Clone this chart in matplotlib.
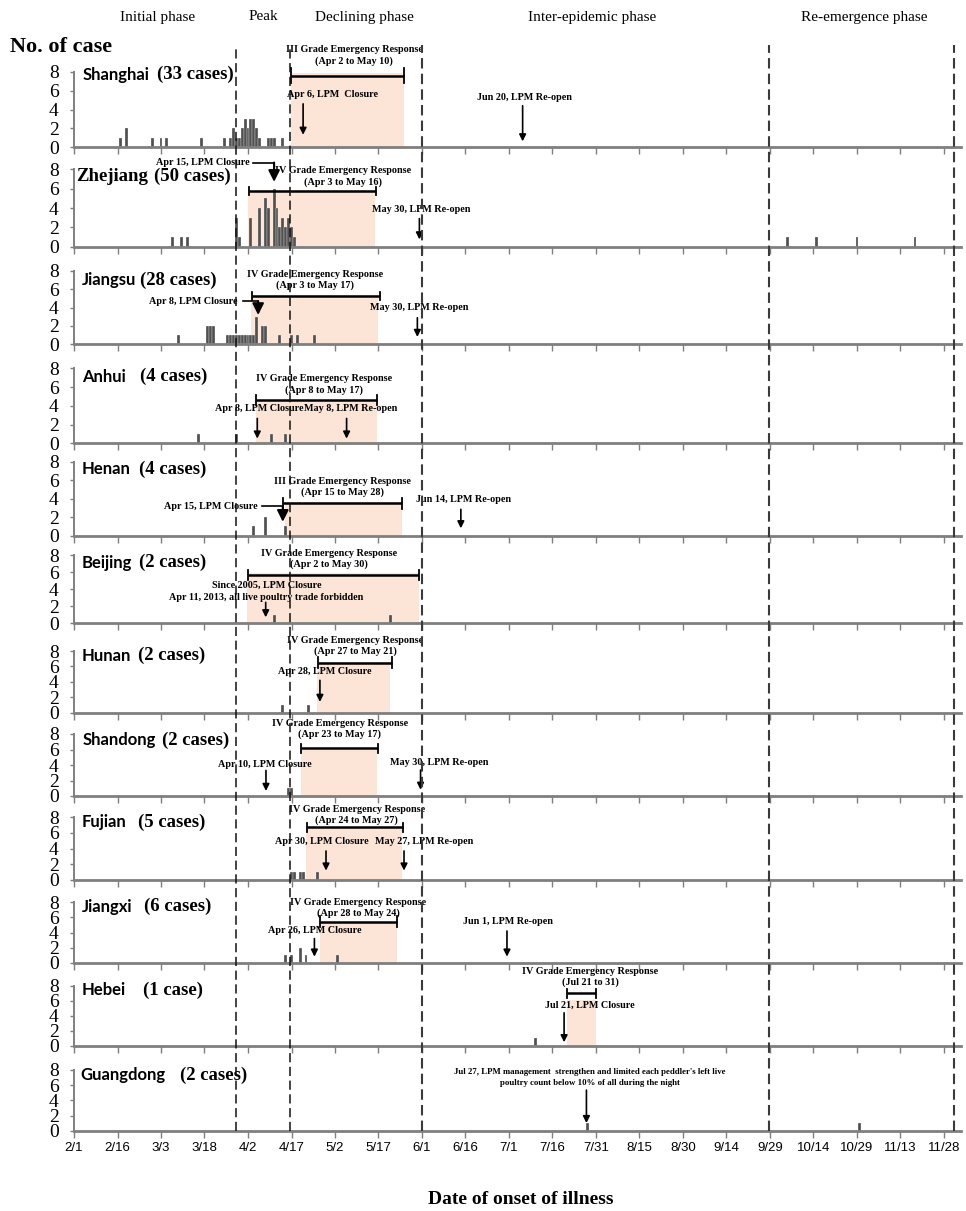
import matplotlib
matplotlib.use('Agg')
import matplotlib.pyplot as plt
import pandas as pd

W, H = 966, 1211
YEAR_START = pd.Timestamp('2013-02-01')

def to_day(s):
    m, d = s.split('/')
    return (pd.Timestamp(2013, int(m), int(d)) - YEAR_START).days

# ---------------- data ----------------
provinces = ['Shanghai', 'Zhejiang', 'Jiangsu', 'Anhui', 'Henan', 'Beijing',
             'Hunan', 'Shandong', 'Fujian', 'Jiangxi', 'Hebei', 'Guangdong']
case_labels = ['(33 cases)', '(50 cases)', '(28 cases)', '(4 cases)', '(4 cases)',
               '(2 cases)', '(2 cases)', '(2 cases)', '(5 cases)', '(6 cases)',
               '(1 case)', '(2 cases)']

shanghai_dates = ['2/17', '2/19', '2/28', '3/3', '3/5', '3/17', '3/25', '3/27', '3/28', '3/29',
                  '3/30', '3/31', '4/1', '4/2', '4/3', '4/4', '4/5', '4/6', '4/9', '4/10',
                  '4/11', '4/14']
shanghai_counts = [1, 2, 1, 1, 1, 1, 1, 1, 2, 1, 1, 2, 3, 2, 3, 3, 2, 1, 1, 1, 1, 1]

zhejiang_dates = ['3/7', '3/10', '3/12', '3/29', '3/30', '4/3', '4/6', '4/8', '4/9', '4/11',
                  '4/12', '4/13', '4/14', '4/15', '4/16', '4/17', '4/18',
                  '10/5', '10/15', '10/29', '11/18']
zhejiang_counts = [1, 1, 1, 3, 1, 3, 4, 5, 4, 6, 4, 2, 3, 2, 3, 2, 1, 1, 1, 1, 1]

jiangsu_dates = ['3/9', '3/19', '3/20', '3/21', '3/26', '3/27', '3/28', '3/29', '3/30', '3/31',
                 '4/1', '4/2', '4/3', '4/4', '4/5', '4/7', '4/8', '4/13', '4/17', '4/19', '4/25']
jiangsu_counts = [1, 2, 2, 2, 1, 1, 1, 1, 1, 1, 1, 1, 1, 1, 3, 2, 2, 1, 1, 1, 1]

anhui_dates = ['3/16', '3/29', '4/10', '4/15']
anhui_counts = [1, 1, 1, 1]
henan_dates = ['4/4', '4/8', '4/15']
henan_counts = [1, 2, 1]
beijing_dates = ['4/11', '5/21']
beijing_counts = [1, 1]
hunan_dates = ['4/14', '4/23']
hunan_counts = [1, 1]
shandong_dates = ['4/16', '4/17']
shandong_counts = [1, 1]
fujian_dates = ['4/17', '4/18', '4/20', '4/21', '4/26']
fujian_counts = [1, 1, 1, 1, 1]
jiangxi_dates = ['4/15', '4/17', '4/20', '4/22', '5/3']
jiangxi_counts = [1, 1, 2, 1, 1]
hebei_dates = ['7/10']
hebei_counts = [1]
guangdong_dates = ['7/28', '10/30']
guangdong_counts = [1, 1]

series = [(shanghai_dates, shanghai_counts), (zhejiang_dates, zhejiang_counts),
          (jiangsu_dates, jiangsu_counts), (anhui_dates, anhui_counts),
          (henan_dates, henan_counts), (beijing_dates, beijing_counts),
          (hunan_dates, hunan_counts), (shandong_dates, shandong_counts),
          (fujian_dates, fujian_counts), (jiangxi_dates, jiangxi_counts),
          (hebei_dates, hebei_counts), (guangdong_dates, guangdong_counts)]

phase_labels = ['Initial phase', 'Peak', 'Declining phase', 'Inter-epidemic phase', 'Re-emergence phase']
phase_bounds = [56, 74.5, 120, 239.7, 303.5]   # days since Feb 1 (dashed lines)

# ---------------- layout ----------------
X0_PX, PX_PER_DAY, XMAX = 74, 2.9, 306
rows = [(147, 72), (246.7, 169.3), (344.3, 271), (443.3, 368.3), (535.7, 461.7),
        (623.3, 555), (712.7, 651), (796, 734), (880, 817.3), (962.7, 902.3),
        (1046, 985.7), (1130.7, 1070)]
prov_x = [2.8, 0.7, 2.8, 2.8, 2.8, 2.8, 2.8, 2.8, 2.8, 2.8, 2.8, 2.1]
case_x = [28.6, 27.6, 22.8, 22.8, 22.4, 22.4, 22.1, 30.3, 22.1, 24.1, 23.8, 36.6]
label_y = [7.7, 7.3, 7.0, 7.1, 7.2, 7.1, 7.4, 7.2, 7.4, 7.4, 7.4, 7.3]

notes = [
    dict(span=(74.8, 113.8), shade_top=7.9, line_y=7.6, cap=0.8,
         title=('III Grade Emergency Response', '(Apr 2 to May 10)'), title_x=96.6, title_y=(10.45, 9.2),
         arrows=[('Apr 6, LPM  Closure', 89.3, 5.65, 79.0, 4.6, 1.3),
                 ('Jun 20, LPM Re-open', 155.3, 5.3, 154.7, 4.4, 0.6)]),
    dict(span=(60.1, 103.8), shade_top=5.9, line_y=5.75, cap=0.45, line_span=(60.5, 104.1),
         title=('IV Grade Emergency Response', '(Apr 3 to May 16)'), title_x=92.7, title_y=(7.9, 6.7),
         arrows=[('May 30, LPM Re-open', 119.9, 3.8, 119.1, 2.9, 0.75)],
         larrow=('Apr 15, LPM Closure', 60.7, 8.7, 61.7, 69.0, 6.7)),
    dict(span=(60.9, 104.7), shade_top=5.4, line_y=5.27, cap=0.45, line_span=(61.3, 105.5),
         title=('IV Grade Emergency Response', '(Apr 3 to May 17)'), title_x=83.1, title_y=(7.6, 6.5),
         arrows=[('May 30, LPM Re-open', 119.1, 4.0, 118.4, 2.9, 0.8)],
         larrow=('Apr 8, LPM Closure', 56.4, 4.7, 58.2, 63.5, 3.2)),
    dict(span=(62.8, 104.4), shade_top=4.6, line_y=4.6, cap=0.5, line_span=(62.8, 104.6),
         title=('IV Grade Emergency Response', '(Apr 8 to May 17)'), title_x=86.3, title_y=(6.9, 5.7),
         arrows=[('Apr 8, LPM Closure', 63.9, 3.7, 63.2, 2.65, 0.5),
                 ('May 8, LPM Re-open', 95.3, 3.7, 94.0, 2.65, 0.5)]),
    dict(span=(72.8, 113.0), shade_top=3.6, line_y=3.5, cap=0.6, line_span=(72.2, 113.2),
         title=('III Grade Emergency Response', '(Apr 15 to May 28)'), title_x=92.7, title_y=(5.9, 4.7),
         arrows=[('Jun 14, LPM Re-open', 134.5, 3.86, 133.4, 2.85, 0.8)],
         larrow=('Apr 15, LPM Closure', 63.3, 3.2, 64.7, 72.0, 1.5)),
    dict(span=(59.8, 119.0), shade_top=5.85, line_y=5.7, cap=0.6, line_span=(60.1, 119.1),
         title=('IV Grade Emergency Response', '(Apr 2 to May 30)'), title_x=87.9, title_y=(8.2, 6.9),
         arrows=[('Since 2005, LPM Closure\nApr 11, 2013, all live poultry trade forbidden', 66.4, 3.75, 66.1, 2.45, 0.7)]),
    dict(span=(83.9, 109.0), shade_top=6.6, line_y=6.5, cap=0.7, line_span=(84.2, 109.6),
         title=('IV Grade Emergency Response', '(Apr 27 to May 21)'), title_x=96.9, title_y=(9.4, 8.0),
         arrows=[('Apr 28, LPM Closure', 86.6, 5.3, 84.8, 4.2, 1.4)]),
    dict(span=(78.2, 104.4), shade_top=5.9, line_y=6.15, cap=0.6, line_span=(78.3, 104.7),
         title=('IV Grade Emergency Response', '(Apr 23 to May 17)'), title_x=91.7, title_y=(9.4, 8.0),
         arrows=[('Apr 10, LPM Closure', 65.9, 4.1, 66.2, 3.3, 0.65),
                 ('May 30, LPM Re-open', 125.9, 4.35, 119.5, 3.35, 0.8)]),
    dict(span=(80.0, 113.2), shade_top=6.6, line_y=6.7, cap=0.6, line_span=(80.2, 113.3),
         title=('IV Grade Emergency Response', '(Apr 24 to May 27)'), title_x=97.5, title_y=(9.0, 7.6),
         arrows=[('Apr 30, LPM Closure', 85.4, 4.9, 86.9, 3.7, 1.2),
                 ('May 27, LPM Re-open', 120.7, 4.9, 113.8, 3.7, 1.2)]),
    dict(span=(85.0, 111.3), shade_top=5.3, line_y=5.45, cap=0.7, line_span=(85.0, 111.3),
         title=('IV Grade Emergency Response', '(Apr 28 to May 24)'), title_x=98.0, title_y=(8.0, 6.55),
         arrows=[('Apr 26, LPM Closure', 83.1, 4.2, 82.9, 3.2, 0.8),
                 ('Jun 1, LPM Re-open', 149.7, 5.4, 149.3, 4.2, 0.8)]),
    dict(span=(169.9, 179.9), shade_top=6.1, line_y=7.0, cap=0.6, line_span=(170.0, 180.0),
         title=('IV Grade Emergency Response', '(Jul 21 to 31)'), title_x=178.0, title_y=(9.9, 8.4),
         arrows=[('Jul 21, LPM Closure', 178.0, 5.4, 169.0, 4.4, 0.5)]),
    dict(arrows=[("Jul 27, LPM management  strengthen and limited each peddler's left live\n"
                  "poultry count below 10% of all during the night", 177.9, 7.05, 176.7, 5.35, 1.0)],
         small=True),
]

SERIF = 'Liberation Serif'
SANS = 'Liberation Sans'
GRAY = '#7f7f7f'
SHADE = '#FCE4D6'
BAR = '#505050'

fig = plt.figure(figsize=(W / 100, H / 100), dpi=100)
ax_w = XMAX * PX_PER_DAY / W
tick_days = list(range(0, 301, 15))
tick_labels = [f'{d.month}/{d.day}' for d in (YEAR_START + pd.to_timedelta(tick_days, unit='D'))]

note_kw = dict(fontsize=7.3, fontweight='bold', family=SERIF, ha='center', va='center', zorder=6)

for i, name in enumerate(provinces):
    base, top = rows[i]
    ax = fig.add_axes([X0_PX / W, 1 - base / H, ax_w, (base - top) / H])
    ax.set_xlim(0, XMAX)
    ax.set_ylim(0, 8)
    ax.patch.set_alpha(0)
    dates, counts = series[i]
    ax.bar([to_day(s) for s in dates], counts, width=1.0, color=BAR, edgecolor='white',
           linewidth=0.2, zorder=3)

    for s in ['top', 'right']:
        ax.spines[s].set_visible(False)
    ax.spines['left'].set_color(GRAY)
    ax.spines['left'].set_linewidth(1.4)
    ax.spines['bottom'].set_color(GRAY)
    ax.spines['bottom'].set_linewidth(2)
    ax.spines['bottom'].set_zorder(4)
    ax.set_yticks([0, 2, 4, 6, 8])
    ax.set_xticks(tick_days)
    ax.tick_params(axis='y', length=3, width=1, color=GRAY, pad=8, labelsize=14)
    for lab in ax.get_yticklabels():
        lab.set_family(SERIF)
    ax.tick_params(axis='x', length=5, width=1, color=GRAY, labelbottom=(i == len(provinces) - 1),
                   labelsize=9.5, pad=3)
    if i == len(provinces) - 1:
        ax.set_xticklabels(tick_labels, family=SANS)

    # province labels
    if name == 'Zhejiang':
        ax.text(prov_x[i], label_y[i], name, family=SERIF, fontweight='bold', fontsize=13.5,
                ha='left', va='center', zorder=7)
    else:
        ax.text(prov_x[i], label_y[i], name, family='Lato', fontweight='bold', fontsize=12,
                ha='left', va='center', zorder=7)
    ax.text(case_x[i], label_y[i], case_labels[i], family=SERIF, fontweight='bold', fontsize=13.5,
            ha='left', va='center', zorder=7)

    nt = notes[i]
    if 'span' in nt:
        x0, x1 = nt['span']
        ax.fill_between([x0, x1], 0, nt['shade_top'], color=SHADE, lw=0, zorder=1)
        lx0, lx1 = nt.get('line_span', nt['span'])
        ly, c = nt['line_y'], nt['cap']
        ax.plot([lx0, lx1], [ly, ly], color='k', lw=1.8, zorder=5, clip_on=False, solid_capstyle='butt')
        ax.plot([lx0, lx0], [ly - c, ly + c], color='k', lw=1.3, zorder=5, clip_on=False)
        ax.plot([lx1, lx1], [ly - c, ly + c], color='k', lw=1.3, zorder=5, clip_on=False)
        ax.text(nt['title_x'], nt['title_y'][0], nt['title'][0], **note_kw)
        ax.text(nt['title_x'], nt['title_y'][1], nt['title'][1], **note_kw)
    fs = 6.3 if nt.get('small') else 7.3
    for (txt, tx, ty, axx, y0, y1) in nt['arrows']:
        kw = dict(note_kw)
        kw['fontsize'] = fs
        ax.text(tx, ty, txt, linespacing=1.5, **kw)
        ax.annotate('', xy=(axx, y1), xytext=(axx, y0), annotation_clip=False, zorder=6,
                    arrowprops=dict(arrowstyle='-|>', color='k', lw=1.2, mutation_scale=10,
                                    shrinkA=0, shrinkB=0))
    if 'larrow' in nt:
        txt, tright, ty, hx0, axx, yend = nt['larrow']
        kw = dict(note_kw)
        kw['ha'] = 'right'
        ax.text(tright, ty, txt, **kw)
        ax.plot([hx0, axx], [ty, ty], color='k', lw=1.2, zorder=6, clip_on=False)
        ax.annotate('', xy=(axx, yend), xytext=(axx, ty), annotation_clip=False, zorder=6,
                    arrowprops=dict(arrowstyle='-|>', color='k', lw=1.5, mutation_scale=17,
                                    shrinkA=0, shrinkB=0))

# overlay for the phase boundary dashed lines
top_px, bot_px = 45, rows[-1][0]
ov = fig.add_axes([X0_PX / W, 1 - bot_px / H, ax_w, (bot_px - top_px) / H], zorder=10)
ov.set_xlim(0, XMAX)
ov.set_ylim(0, 1)
ov.axis('off')
for k, xb in enumerate(phase_bounds):
    if k < 2:
        ov.axvline(xb, color='#111111', lw=1.1, linestyle=(0, (6, 3)))
    else:
        ov.axvline(xb, color='#3a3a3a', lw=1.5, linestyle=(0, (5, 2.5)))

# phase labels
phase_x_px = [158, 263, 364, 592, 864]
for lab, xp in zip(phase_labels, phase_x_px):
    fig.text(xp / W, 1 - 17 / H, lab, family=SERIF, fontsize=11, ha='center', va='center')

fig.text(10 / W, 1 - 47 / H, 'No. of case', family=SERIF, fontweight='bold', fontsize=16,
         ha='left', va='center')
fig.text(521 / W, 1 - 1200 / H, 'Date of onset of illness', family=SERIF, fontweight='bold',
         fontsize=14, ha='center', va='center')

fig.savefig('out.png', dpi=100)
